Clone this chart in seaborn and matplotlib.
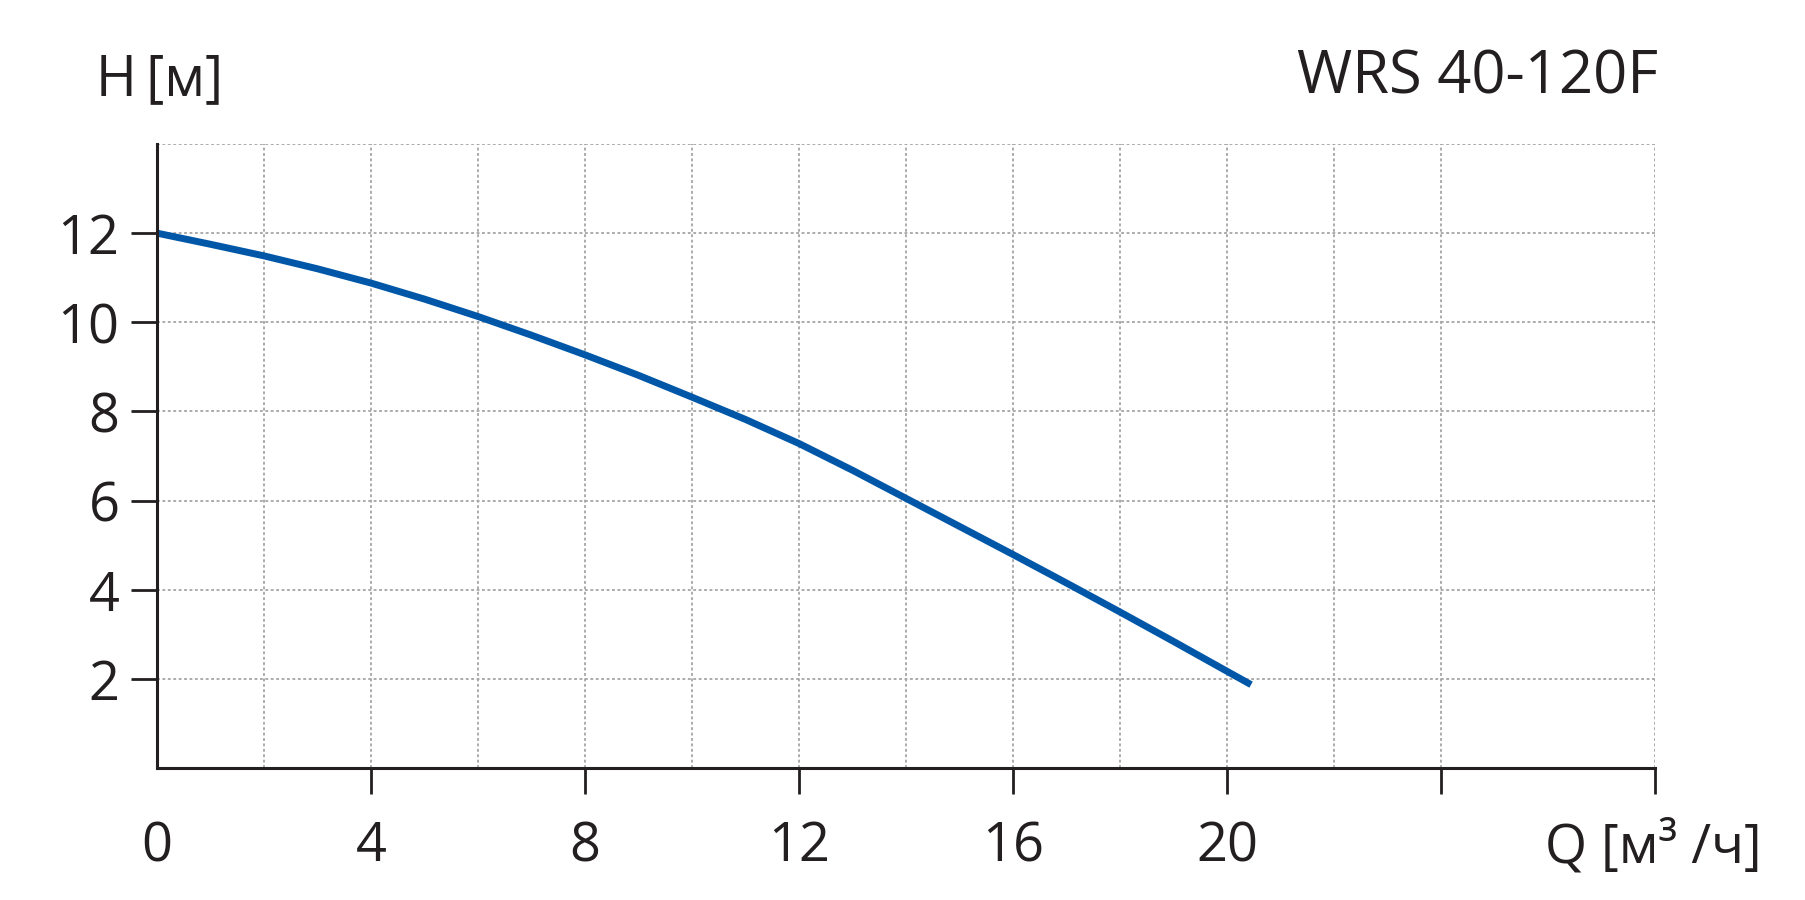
import matplotlib
matplotlib.use("Agg")
import matplotlib.pyplot as plt
import seaborn as sns
import pandas as pd
from matplotlib.ticker import FixedLocator

# Data
flow_q = [0, 1, 2, 3, 4, 5, 6, 7, 8, 9, 10, 11, 12, 13, 14, 15, 16, 17, 18, 19, 20, 20.45]
head_h = [12.0, 11.75, 11.49, 11.2, 10.88, 10.52, 10.13, 9.71, 9.27, 8.81, 8.32,
          7.82, 7.28, 6.68, 6.05, 5.42, 4.79, 4.15, 3.5, 2.84, 2.17, 1.87]
x_ticks = [0, 4, 8, 12, 16, 20, 24, 28]
x_tick_labels = ["0", "4", "8", "12", "16", "20", "", ""]
y_ticks = [2, 4, 6, 8, 10, 12]
y_tick_labels = ["2", "4", "6", "8", "10", "12"]
x_grid = [2, 4, 6, 8, 10, 12, 14, 16, 18, 20, 22, 24, 28]
y_grid = [2, 4, 6, 8, 10, 12, 14]
title_text = "WRS 40-120F"
y_label = "H\u2009[м]"
x_label = "Q [м³ /ч]"

sns.set_theme(style="white")
plt.rcParams["font.family"] = ["Open Sans", "DejaVu Sans"]
ink = "#231f20"

df = pd.DataFrame({"Q": flow_q, "H": head_h})

fig = plt.figure(figsize=(18.06, 9.0), dpi=100)
ax = fig.add_axes([157 / 1806, 1 - 768 / 900, (1655 - 157) / 1806, 624 / 900])

sns.lineplot(data=df, x="Q", y="H", ax=ax, color="#0057a8", linewidth=5.0,
             solid_capstyle="butt", solid_joinstyle="round", zorder=5)

ax.set_xlim(0, 28)
ax.set_ylim(0, 14)
ax.set_xlabel("")
ax.set_ylabel("")

ax.xaxis.remove_overlapping_locs = False
ax.yaxis.remove_overlapping_locs = False
ax.xaxis.set_major_locator(FixedLocator(x_ticks))
ax.set_xticklabels(x_tick_labels)
ax.yaxis.set_major_locator(FixedLocator(y_ticks))
ax.set_yticklabels(y_tick_labels)
ax.xaxis.set_minor_locator(FixedLocator(x_grid))
ax.yaxis.set_minor_locator(FixedLocator(y_grid))

ax.tick_params(axis="both", which="major", direction="out", length=19, width=2.0,
               color=ink, labelcolor=ink, labelsize=39, bottom=True, left=True)
ax.tick_params(axis="x", which="major", pad=18)
ax.tick_params(axis="y", which="major", pad=8)
ax.tick_params(axis="both", which="minor", length=0)
ax.xaxis.get_major_ticks()[0].tick1line.set_visible(False)

ax.grid(False)
ax.grid(True, which="minor", color="#a6a6a6", linewidth=1.3, linestyle=(0, (1.6, 1.4)))
ax.set_axisbelow(True)

for side in ["top", "right"]:
    ax.spines[side].set_visible(False)
for side in ["left", "bottom"]:
    ax.spines[side].set_color(ink)
    ax.spines[side].set_linewidth(2.2)
    ax.spines[side].set_zorder(6)

fig.text(96 / 1806, 1 - 81 / 900, y_label, ha="left", va="center",
         fontsize=40, color=ink)
fig.text(1658 / 1806, 1 - 78 / 900, title_text, ha="right", va="center",
         fontsize=43, color=ink)
fig.text(1762 / 1806, 1 - 848 / 900, x_label, ha="right", va="center",
         fontsize=39, color=ink)

fig.savefig("out.png", dpi=100, facecolor="white")
